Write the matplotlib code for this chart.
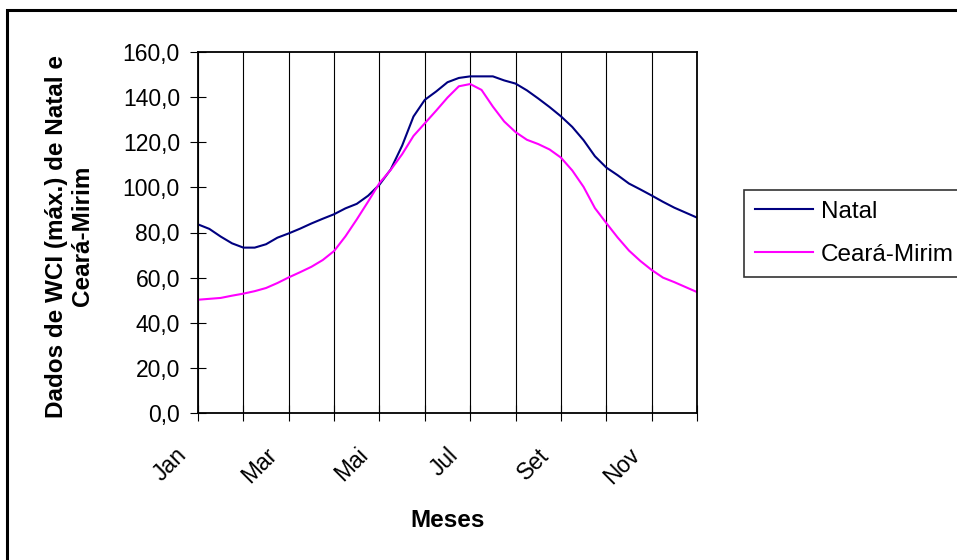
import matplotlib
matplotlib.use("Agg")
import matplotlib.pyplot as plt
import matplotlib.transforms as mtransforms
from matplotlib.patches import Rectangle
from matplotlib.ticker import FuncFormatter
import numpy as np

plt.rcParams["font.family"] = ["Liberation Sans", "DejaVu Sans"]

months = ["Jan", "Fev", "Mar", "Abr", "Mai", "Jun", "Jul", "Ago", "Set", "Out", "Nov", "Dez"]
steps_per_month = 4

# weekly values (Jan .. Dez)
natal = [
    83.6, 81.6, 78.2, 75.2, 73.3, 73.3, 74.8, 77.7, 79.6, 81.7, 84.0, 86.1,
    88.1, 90.7, 92.7, 96.3, 101.2, 108.0, 118.5, 131.4, 138.8, 142.5, 146.6, 148.5,
    149.2, 149.2, 149.2, 147.4, 146.0, 143.0, 139.4, 135.6, 131.5, 126.8, 120.9, 113.8,
    108.8, 105.4, 101.7, 99.1, 96.4, 93.6, 91.0, 88.8, 86.6,
]
ceara_mirim = [
    50.2, 50.6, 51.0, 52.0, 52.9, 54.0, 55.4, 57.6, 60.1, 62.4, 64.8, 67.8,
    71.8, 78.3, 85.8, 93.7, 101.9, 107.8, 114.7, 122.8, 128.4, 134.0, 139.8, 144.8,
    145.8, 143.2, 135.8, 129.2, 124.5, 121.1, 119.2, 116.8, 113.2, 107.5, 100.2, 90.8,
    84.2, 77.8, 72.0, 67.4, 63.4, 60.0, 58.0, 55.8, 53.6,
]

x = np.arange(len(natal)) / steps_per_month

fig = plt.figure(figsize=(9.57, 5.6), dpi=100)
ax = fig.add_axes([198 / 957, 1 - 413 / 560, (697 - 198) / 957, (413 - 52) / 560])

ax.plot(x, natal, color="#000080", lw=1.5, label="Natal")
ax.plot(x, ceara_mirim, color="#FF00FF", lw=1.5, label="Ceará-Mirim")

ax.set_xlim(0, len(months) - 1)
ax.set_ylim(0, 160)
ax.set_yticks(np.arange(0, 161, 20))
ax.yaxis.set_major_formatter(FuncFormatter(lambda v, p: f"{v:.1f}".replace(".", ",")))
ax.set_xticks(range(len(months)))
ax.set_xticklabels([m if i % 2 == 0 else "" for i, m in enumerate(months)],
                   rotation=45, ha="right", va="top")
ax.grid(axis="x", color="black", lw=0.8)
ax.set_axisbelow(True)

ax.tick_params(axis="both", direction="inout", length=12, width=0.8, labelsize=16.5, color="black")
ax.tick_params(axis="y", pad=7)
ax.tick_params(axis="x", pad=16)
shift = mtransforms.ScaledTranslation(-7 / 100, 0, fig.dpi_scale_trans)
for lab in ax.get_xticklabels():
    lab.set_transform(lab.get_transform() + shift)

for sp in ax.spines.values():
    sp.set_color("black")
    sp.set_linewidth(1.3)

ax.set_ylabel("Dados de WCI (máx.) de Natal e\nCeará-Mirim", fontsize=17.5, fontweight="bold",
              linespacing=1.15)
ax.yaxis.set_label_coords(-(198 - 94) / 499, 0.49)
ax.set_xlabel("Meses", fontsize=17.5, fontweight="bold")
ax.xaxis.set_label_coords(0.5, -(509 - 413) / 361)

leg = fig.legend(loc="upper left", bbox_to_anchor=(744 / 957, 1 - 190 / 560), borderaxespad=0,
                 fontsize=17.5, frameon=True, fancybox=False, edgecolor="black",
                 handlelength=2.4, handletextpad=0.3, borderpad=0.45, labelspacing=0.85)
leg.get_frame().set_linewidth(1.2)

fig.patches.append(Rectangle((7.5 / 957, -0.05), 1.2, 1 - 10 / 560 + 0.05, transform=fig.transFigure,
                             fill=False, edgecolor="black", lw=2.2, clip_on=False))

fig.savefig("out.png", dpi=100)
